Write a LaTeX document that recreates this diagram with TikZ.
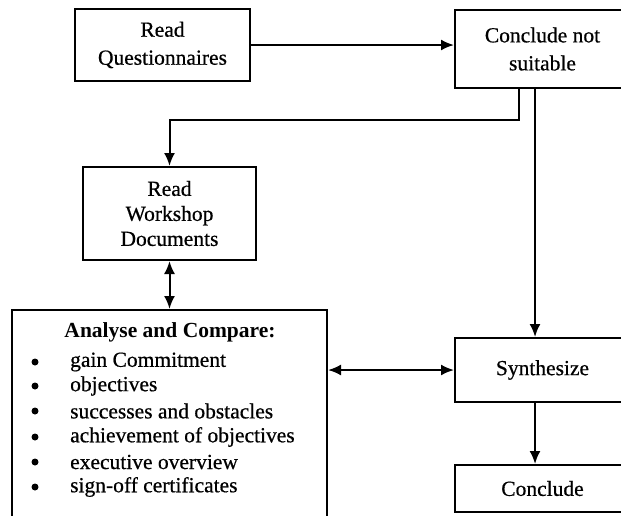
\documentclass[tikz,border=0pt]{standalone}
\usepackage{fontspec}
\setmainfont{Liberation Serif}
\newfontfamily\heavyserif{Liberation Serif}[FakeBold=0.6]
\usetikzlibrary{arrows.meta}
\begin{document}
\begin{tikzpicture}[x=1pt,y=-1pt,
  txt/.style={font=\heavyserif\fontsize{21.5}{25}\selectfont},
  box/.style={draw, line width=2pt, inner sep=0pt, align=center, txt},
  arr/.style={line width=2pt, -{Latex[length=13pt,width=11pt]}},
  darr/.style={line width=2pt, {Latex[length=13pt,width=11pt]}-{Latex[length=13pt,width=11pt]}},
  itemtext/.style={anchor=west, inner sep=0pt, txt},
  bul/.style={circle, fill, inner sep=0pt, minimum size=7pt},
]
\useasboundingbox (0,0) rectangle (621,515);
\clip (0,0) rectangle (621,515);

\node[box, minimum width=175pt, minimum height=72pt] (rq) at (162.5,45) {Read\\[3pt]Questionnaires};
\node[box, minimum width=175pt, minimum height=78pt] (cns) at (542.5,49) {Conclude not\\[3pt]suitable};
\node[box, minimum width=173pt, minimum height=93pt] (rwd) at (169.5,213.5) {Read\\Workshop\\Documents};
\node[draw, line width=2pt, minimum width=315pt, minimum height=251pt, anchor=north, inner sep=0pt] (ana) at (169.5,309) {};
\node[box, minimum width=175pt, minimum height=64pt] (syn) at (542.5,370) {Synthesize};
\node[box, minimum width=175pt, minimum height=47pt] (con) at (542.5,488.5) {Conclude};

\node[inner sep=0pt, font=\fontsize{21.5}{25}\selectfont\bfseries] (anahead) at (170,332) {Analyse and Compare:};
\foreach \i/\yy/\t in {1/362/gain Commitment, 2/386/objectives, 3/411/successes and obstacles,
  4/437/achievement of objectives, 5/462/executive overview, 6/487/sign-off certificates}{
  \node[bul] (bul\i) at (35,\yy) {};
  \node[itemtext] (item\i) at (70,\yy) {\t};
}

\coordinate (b1) at (519,120);
\draw[arr] (cns.south -| b1) -- (b1) -- (b1 -| rwd.north) -- (rwd.north);
\draw[arr] (rq.east) -- (rq.east -| cns.west);
\draw[arr] ([xshift=-7.5pt]cns.south) -- ([xshift=-7.5pt]syn.north);
\draw[arr] ([xshift=-7.5pt]syn.south) -- ([xshift=-7.5pt]con.north);
\draw[darr] (rwd.south) -- (ana.north);
\draw[darr] (syn.west -| ana.east) -- (syn.west);
\end{tikzpicture}
\end{document}
